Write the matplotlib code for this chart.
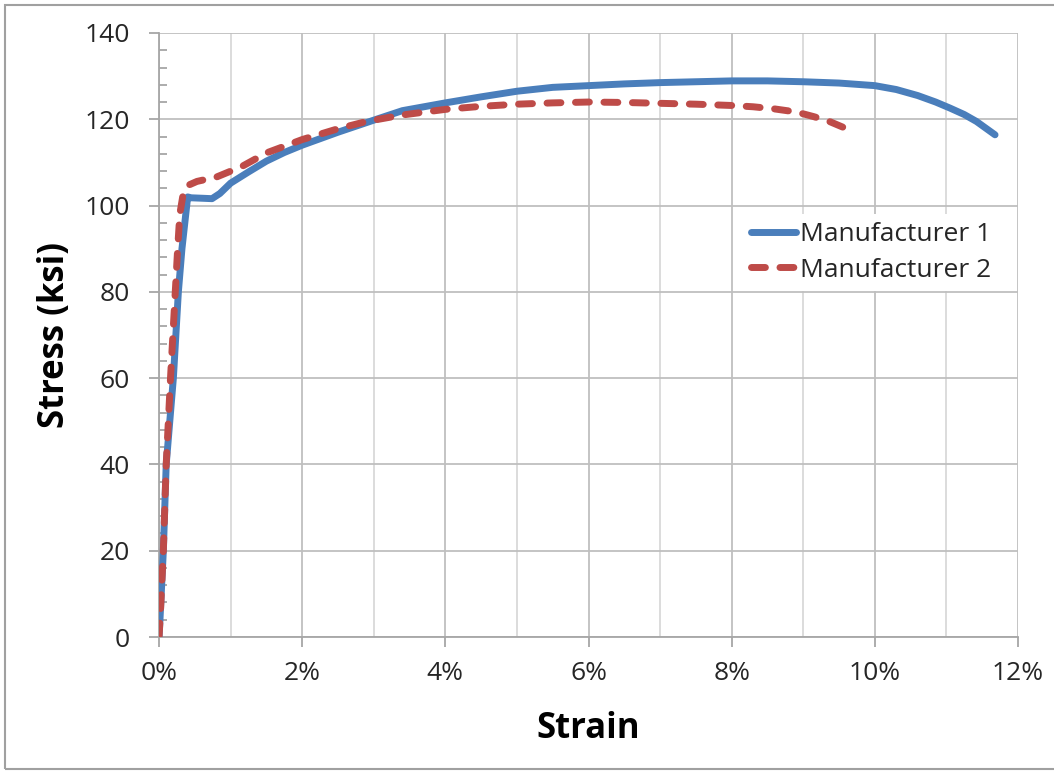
import matplotlib
matplotlib.use("Agg")
import matplotlib.pyplot as plt
from matplotlib.ticker import MultipleLocator, FuncFormatter
from matplotlib.patches import Rectangle

plt.rcParams["font.family"] = ["Open Sans", "DejaVu Sans"]

# stress-strain curves (strain in %, stress in ksi)
m1_strain = [0, 0.01, 0.06, 0.10, 0.20, 0.27, 0.32, 0.40, 0.45, 0.60, 0.74, 0.85,
             1.0, 1.25, 1.5, 1.75, 2.0, 2.5, 3.0, 3.4, 4.0, 4.5, 5.0, 5.5, 6.0,
             6.5, 7.0, 7.5, 8.0, 8.5, 9.0, 9.5, 10.0, 10.3, 10.6, 10.85, 11.05,
             11.25, 11.42, 11.68]
m1_stress = [0, 3, 20, 40, 60, 80, 90, 102, 101.8, 101.7, 101.6, 102.8,
             105.2, 107.8, 110.3, 112.3, 114.0, 117.0, 119.8, 122.0, 123.8, 125.2,
             126.5, 127.4, 127.8, 128.2, 128.5, 128.7, 128.9, 128.9, 128.7, 128.4,
             127.8, 126.9, 125.5, 124.0, 122.6, 121.1, 119.5, 116.4]

m2_strain = [0, 0.02, 0.06, 0.10, 0.16, 0.22, 0.26, 0.29, 0.33, 0.37, 0.42, 0.53,
             0.8, 1.15, 1.5, 2.0, 2.5, 2.9, 3.4, 4.0, 4.5, 5.0, 5.5, 6.0, 6.5,
             7.0, 7.5, 8.0, 8.3, 8.6, 8.9, 9.15, 9.35, 9.55, 9.72]
m2_stress = [0, 6, 20, 40, 60, 78, 90, 98, 102, 104, 104.8, 105.6,
             106.6, 109.0, 112.2, 115.3, 117.8, 119.5, 121.0, 122.3, 123.0, 123.5,
             123.8, 124.0, 123.9, 123.7, 123.5, 123.2, 122.9, 122.4, 121.7, 120.6,
             119.6, 118.2, 116.8]

labels = ["Manufacturer 1", "Manufacturer 2"]

fig = plt.figure(figsize=(10.54, 7.71), dpi=100)
ax = fig.add_axes([0.1509, 0.1738, 0.8149, 0.7834])

ax.plot(m1_strain, m1_stress, color="#4A7EBB", lw=5, solid_capstyle="round",
        solid_joinstyle="round", label=labels[0], zorder=3)
ax.plot(m2_strain, m2_stress, color="#BE4B48", lw=5, linestyle=(0, (2.0, 2.1)),
        dash_capstyle="round", dash_joinstyle="round", label=labels[1], zorder=4)

ax.set_xlim(0, 12)
ax.set_ylim(0, 140)
ax.xaxis.set_major_locator(MultipleLocator(2))
ax.xaxis.set_minor_locator(MultipleLocator(1))
ax.yaxis.set_major_locator(MultipleLocator(20))
ax.yaxis.set_minor_locator(MultipleLocator(4))
ax.xaxis.set_major_formatter(FuncFormatter(lambda v, p: f"{v:.0f}%"))

ax.grid(True, which="major", axis="both", color="#BFBFBF", lw=1.3)
ax.grid(True, which="minor", axis="x", color="#D9D9D9", lw=1.3)
ax.set_axisbelow(True)

for s in ["top", "right"]:
    ax.spines[s].set_visible(False)
for s in ["left", "bottom"]:
    ax.spines[s].set_color("#A6A6A6")
    ax.spines[s].set_linewidth(1.3)

ax.tick_params(axis="both", which="major", direction="out", length=7,
               width=1.3, color="#A6A6A6", labelsize=19, labelcolor="#262626")
ax.tick_params(axis="x", which="major", pad=10)
ax.tick_params(axis="y", which="major", pad=14)
ax.tick_params(axis="x", which="minor", length=0)
ax.tick_params(axis="y", which="minor", direction="in", length=6,
               width=1.3, color="#A6A6A6")

ax.set_xlabel("Strain", fontsize=25, fontweight="bold", labelpad=18)
ax.set_ylabel("Stress (ksi)", fontsize=25, fontweight="bold", labelpad=8)

leg = ax.legend(loc="upper left", bbox_to_anchor=(0.68, 0.70), fontsize=19,
                frameon=True, facecolor="white", edgecolor="none", framealpha=1,
                fancybox=False, handlelength=1.7, handletextpad=0.15,
                labelspacing=0.4, borderpad=0.3, borderaxespad=0)
for t in leg.get_texts():
    t.set_color("#262626")

# outer chart border
fig.patches.append(Rectangle((5 / 1054, 2 / 771), 1.0, 764 / 771,
                             transform=fig.transFigure, fill=False,
                             edgecolor="#A0A0A0", lw=1.5))

fig.savefig("out.png", dpi=100)
